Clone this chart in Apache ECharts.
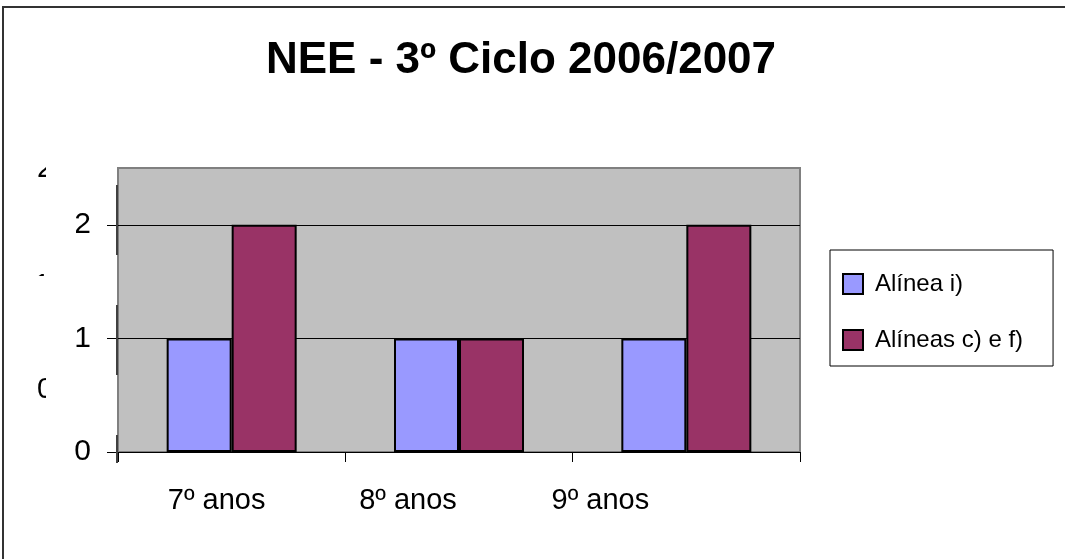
<!DOCTYPE html>
<html>
<head>
<meta charset="utf-8">
<script src="https://cdn.jsdelivr.net/npm/echarts@6/dist/echarts.min.js"></script>
<style>
  html, body { margin: 0; padding: 0; background: #fff; }
  #chart { width: 1065px; height: 559px; }
</style>
</head>
<body>
<div id="chart"></div>
<script>
var titleText = 'NEE - 3º Ciclo 2006/2007';
var categories = ['7º anos', '8º anos', '9º anos'];
var seriesNames = ['Alínea i)', 'Alíneas c) e f)'];
var alineaI = [1, 1, 1];
var alineasCF = [2, 1, 2];
var yTickValues = [0, 1, 2];

var dom = document.getElementById('chart');
var myChart = echarts.init(dom);
var font = 'Arial, "Liberation Sans", sans-serif';

// labels under the axis sit left of the category centres in the original
var labelShift = [30, 102, 172];
var rich = {};
labelShift.forEach(function (p, i) {
    rich['c' + i] = { fontSize: 29, fontFamily: font, color: '#000', padding: [0, p, 0, 0] };
});

// clipped remains of old axis labels on the far left
var ghost = [];
[['2', 37, 168], ['1', 34, 285], ['0', 37, 389]].forEach(function (g) {
    ghost.push({
        type: 'text', left: g[1], top: g[2] - 14, z: 1,
        style: { text: g[0], font: '29px ' + font, fill: '#000' }
    });
});
ghost.push({ type: 'rect', shape: { x: 46, y: 150, width: 30, height: 260 }, style: { fill: '#fff' }, z: 2 });
ghost.push({ type: 'rect', shape: { x: 25, y: 140, width: 30, height: 25 }, style: { fill: '#fff' }, z: 2 });
ghost.push({ type: 'rect', shape: { x: 25, y: 276, width: 30, height: 30 }, style: { fill: '#fff' }, z: 2 });

// broken left axis line
[[185, 255], [305, 375], [435, 463]].forEach(function (s) {
    ghost.push({
        type: 'line', z: 10,
        shape: { x1: 117, y1: s[0], x2: 117, y2: s[1] },
        style: { stroke: '#404040', lineWidth: 2 }
    });
});

// outer frame
ghost.push({
    type: 'polyline', z: 10,
    shape: { points: [[3, 559], [3, 7], [1065, 7]] },
    style: { stroke: '#333', lineWidth: 2, fill: null }
});

var option = {
    backgroundColor: '#fff',
    animation: false,
    title: {
        text: titleText,
        left: 516,
        textAlign: 'center',
        top: 34,
        textStyle: { fontSize: 44, fontWeight: 'bold', fontFamily: font, color: '#000' }
    },
    legend: {
        data: seriesNames,
        orient: 'vertical',
        left: 830,
        top: 250,
        padding: [22, 30, 14, 12],
        itemWidth: 20,
        itemHeight: 20,
        itemGap: 32,
        borderColor: '#000',
        borderWidth: 1,
        icon: 'rect',
        textStyle: { fontSize: 24, fontFamily: font, color: '#000', padding: [0, 0, 6, 7] }
    },
    grid: {
        left: 118,
        right: 265,
        top: 168,
        bottom: 107,
        show: true,
        backgroundColor: '#c0c0c0',
        borderColor: '#808080',
        borderWidth: 2
    },
    xAxis: {
        type: 'category',
        data: categories,
        axisLine: { lineStyle: { color: '#000', width: 1 } },
        axisTick: { show: true, length: 10, lineStyle: { color: '#000' } },
        axisLabel: {
            margin: 34,
            formatter: function (v, i) { return '{c' + i + '|' + v + '}'; },
            rich: rich
        }
    },
    yAxis: {
        type: 'value',
        min: 0,
        max: 2.5,
        interval: 0.5,
        axisLine: { show: false },
        axisTick: { show: true, length: 11, customValues: yTickValues, lineStyle: { color: '#000' } },
        axisLabel: {
            customValues: yTickValues,
            margin: 27,
            fontSize: 30,
            fontFamily: font,
            color: '#000'
        },
        splitLine: { show: true, lineStyle: { color: '#000', width: 1 } }
    },
    series: [
        {
            name: seriesNames[0],
            type: 'bar',
            data: alineaI,
            barWidth: 65,
            barGap: '0%',
            itemStyle: { color: '#9999ff', borderColor: '#000', borderWidth: 2 }
        },
        {
            name: seriesNames[1],
            type: 'bar',
            data: alineasCF,
            barWidth: 65,
            barGap: '0%',
            itemStyle: { color: '#993366', borderColor: '#000', borderWidth: 2 }
        }
    ],
    graphic: ghost
};

myChart.setOption(option);
</script>
</body>
</html>
